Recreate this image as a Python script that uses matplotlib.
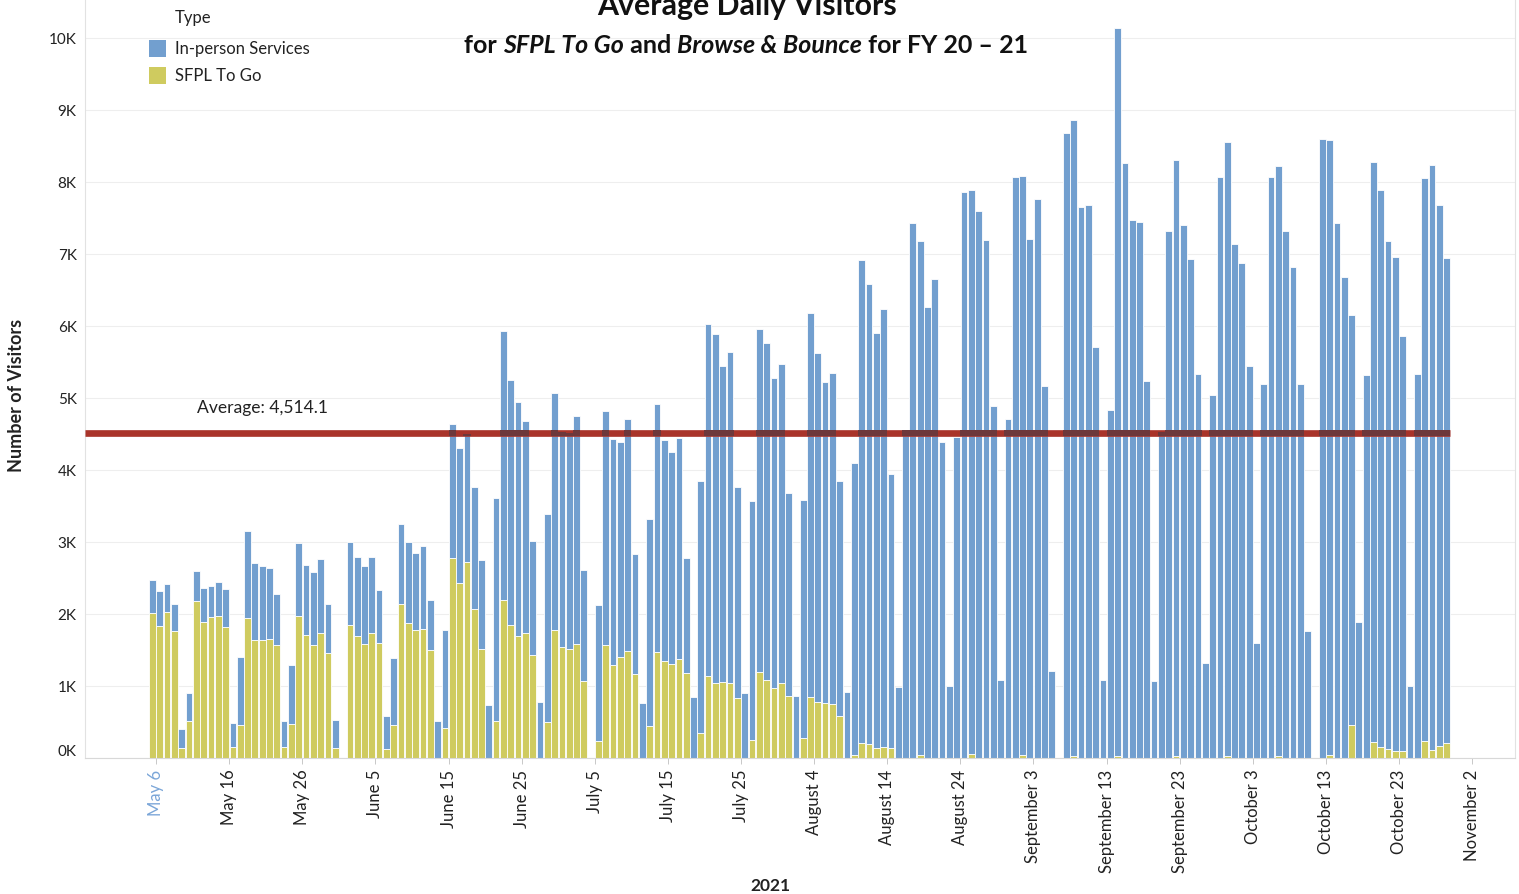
import numpy as np
import pandas as pd
import matplotlib
matplotlib.use('Agg')
import matplotlib.pyplot as plt
import matplotlib.dates as mdates
from matplotlib.patches import Rectangle

plt.rcParams['font.family'] = ['Lato', 'DejaVu Sans']

# =============================================================================
# DATA (daily visitors; NaN = closed day)
# =============================================================================
START_DATE = '2021-05-05'
NA = np.nan

to_go = [
    2005, 1830, 2020, 1755, 135, 514, 2170, 1880, 1955, 1970,
    1815, 144, 450, 1940, 1640, 1630, 1650, 1565, 144, 468,
    1970, 1710, 1570, 1730, 1460, 135, NA, 1850, 1685, 1575,
    1735, 1600, 120, 460, 2130, 1870, 1770, 1790, 1490, 0,
    410, 2770, 2420, 2720, 2065, 1505, 0, 510, 2190, 1840,
    1690, 1730, 1430, 0, 500, 1770, 1540, 1515, 1575, 1060,
    NA, 230, 1565, 1290, 1400, 1480, 1160, 0, 440, 1470,
    1340, 1300, 1375, 1170, 0, 340, 1140, 1040, 1050, 1040,
    830, 0, 245, 1190, 1075, 970, 1040, 857, 0, 270,
    850, 780, 765, 740, 580, 0, 40, 200, 190, 130,
    150, 140, 0, 0, 0, 40, 0, 0, 0, 0,
    0, 0, 50, 0, 0, 0, 0, 0, 0, 40,
    0, 0, 0, 0, NA, 0, 30, 0, 0, 0,
    0, 0, 30, 0, 0, 0, 0, 0, 0, 0,
    30, 0, 0, 0, 0, 0, 0, 30, 0, 0,
    0, 0, 0, 0, 30, 0, 0, 0, 0, NA,
    0, 40, 0, 0, 450, 0, 0, 220, 150, 120,
    90, 90, 0, 0, 235, 110, 165, 210,
]

in_person = [
    459, 490, 390, 380, 259, 389, 430, 480, 430, 475,
    525, 342, 950, 1210, 1060, 1030, 985, 705, 361, 822,
    1010, 970, 1015, 1035, 675, 385, NA, 1140, 1105, 1085,
    1055, 725, 460, 920, 1110, 1120, 1070, 1150, 695, 505,
    1365, 1860, 1880, 1780, 1690, 1245, 730, 3100, 3730, 3400,
    3255, 2950, 1585, 780, 2890, 3290, 2990, 3000, 3165, 1550,
    NA, 1895, 3255, 3130, 2985, 3230, 1670, 760, 2880, 3440,
    3070, 2940, 3060, 1600, 850, 3500, 4890, 4840, 4390, 4600,
    2925, 900, 3325, 4760, 4690, 4310, 4430, 2823, 860, 3310,
    5330, 4840, 4455, 4610, 3270, 910, 4060, 6710, 6390, 5775,
    6080, 3795, 980, 4555, 7430, 7130, 6265, 6650, 4380, 990,
    4460, 7860, 7830, 7590, 7190, 4890, 1080, 4710, 8070, 8040,
    7200, 7760, 5160, 1210, NA, 8670, 8825, 7650, 7670, 5710,
    1085, 4830, 10110, 8255, 7465, 7440, 5230, 1060, 4530, 7310,
    8265, 7400, 6920, 5330, 1310, 5035, 8060, 8520, 7140, 6870,
    5440, 1600, 5190, 8060, 8190, 7310, 6820, 5190, 1755, NA,
    8590, 8540, 7430, 6670, 5700, 1880, 5320, 8050, 7735, 7060,
    6865, 5770, 995, 5335, 7810, 8120, 7505, 6730,
]

AVERAGE = 4514.1

tick_dates = ['2021-05-06', '2021-05-16', '2021-05-26', '2021-06-05', '2021-06-15',
              '2021-06-25', '2021-07-05', '2021-07-15', '2021-07-25', '2021-08-04',
              '2021-08-14', '2021-08-24', '2021-09-03', '2021-09-13', '2021-09-23',
              '2021-10-03', '2021-10-13', '2021-10-23', '2021-11-02']
tick_labels = ['May 6', 'May 16', 'May 26', 'June 5', 'June 15', 'June 25', 'July 5',
               'July 15', 'July 25', 'August 4', 'August 14', 'August 24', 'September 3',
               'September 13', 'September 23', 'October 3', 'October 13', 'October 23',
               'November 2']
y_ticks = [0, 1000, 2000, 3000, 4000, 5000, 6000, 7000, 8000, 9000, 10000]
y_tick_labels = ['0K', '1K', '2K', '3K', '4K', '5K', '6K', '7K', '8K', '9K', '10K']

BLUE = '#729fcf'
YELLOW = '#cfcb5f'
RED = '#a9342a'
DARK = '#6d383b'

W, H = 1519, 895


def fx(px):
    return px / W


def fy(py):
    return 1 - py / H


# =============================================================================
# PLOT
# =============================================================================
fig = plt.figure(figsize=(W / 100, H / 100), dpi=100)
ax = fig.add_axes([fx(85), fy(758.7), fx(1515) - fx(85), 758.7 / H])

dates = pd.date_range(START_DATE, periods=len(to_go), freq='D')
x = mdates.date2num(dates) + 0.5
go = np.array(to_go, dtype=float)
inp = np.array(in_person, dtype=float)
total = go + inp

ax.bar(x, go, width=0.92, color=YELLOW, edgecolor='white', linewidth=0.6, zorder=2)
ax.bar(x, inp, bottom=go, width=0.92, color=BLUE, edgecolor='white', linewidth=0.6, zorder=2)

# average reference line, darker where it crosses the bars
x0 = mdates.date2num(pd.Timestamp(START_DATE))
ax.hlines(AVERAGE, x0 - 8.73, x[-1] + 0.5, color=RED, linewidth=4.8, zorder=3)
half = 44
ov = np.clip(total - (AVERAGE - half), 0, 2 * half)
ov = np.where(ov > 0, ov, np.nan)
ax.bar(x, ov, bottom=AVERAGE - half, width=1.0, color=DARK, linewidth=0, zorder=4)

ax.text(x0 + 6.6, 4871, 'Average: 4,514.1', fontsize=12.6, va='center', ha='left', color='#222222')

ax.set_xlim(x0 - 8.73, x0 + 186.86)
ax.set_ylim(0, 758.7 / 0.072)

ax.set_xticks(mdates.date2num(pd.to_datetime(tick_dates)))
ax.set_xticklabels(tick_labels, rotation=90, fontsize=12, color='#222222')
ax.get_xticklabels()[0].set_color('#7ba6d8')
ax.tick_params(axis='x', length=4.3, width=0.7, color='#c8c8c8', pad=3.6)

ax.set_yticks(y_ticks)
ax.set_yticklabels(y_tick_labels, fontsize=11, color='#222222')
ax.get_yticklabels()[0].set_va('bottom')
ax.tick_params(axis='y', length=0, pad=6)

ax.yaxis.grid(True, color='#eeeeee', linewidth=0.8)
ax.set_axisbelow(True)
ax.spines['top'].set_visible(False)
ax.spines['left'].set_color('#e2e2e2')
ax.spines['right'].set_color('#e2e2e2')
ax.spines['bottom'].set_color('#d8d8d8')
for s in ax.spines.values():
    s.set_linewidth(0.8)

# axis titles
fig.text(fx(17), fy(395), 'Number of Visitors', rotation=90, ha='center', va='center',
         fontsize=13, fontweight='bold', color='#222222')
fig.text(fx(770), fy(886), '2021', ha='center', va='center',
         fontsize=12.5, fontweight='bold', color='#222222')

# legend
fig.text(fx(175), fy(18), 'Type', ha='left', va='center', fontsize=12, color='#222222')
for i, (lab, col) in enumerate([('In-person Services', BLUE), ('SFPL To Go', YELLOW)]):
    yc = 49 + 27 * i
    fig.add_artist(Rectangle((fx(149), fy(yc + 8.5)), 17 / W, 17 / H,
                             transform=fig.transFigure, color=col, linewidth=0))
    fig.text(fx(175), fy(yc), lab, ha='left', va='center', fontsize=12, color='#222222')

# title (clipped at the top in the original) and subtitle with italic parts
fig.text(fx(747), fy(15), 'Average Daily Visitors', ha='center', va='baseline',
         fontsize=21.8, fontweight='bold', color='#111111')

pieces = [('for ', 'normal'), ('SFPL To Go', 'italic'), (' and ', 'normal'),
          ('Browse & Bounce', 'italic'), (' for FY 20 \u2013 21', 'normal')]
arts = []
for txt, st in pieces:
    a = fig.text(0, 0, txt, ha='left', va='baseline', fontsize=18, fontweight='bold',
                 style=st, color='#111111')
    arts.append(a)
fig.canvas.draw()
r = fig.canvas.get_renderer()
widths = [a.get_window_extent(r).width for a in arts]
xpos = 746 - sum(widths) / 2
for a, w in zip(arts, widths):
    a.set_position((fx(xpos), fy(53)))
    xpos += w

fig.savefig('out.png', dpi=100)
